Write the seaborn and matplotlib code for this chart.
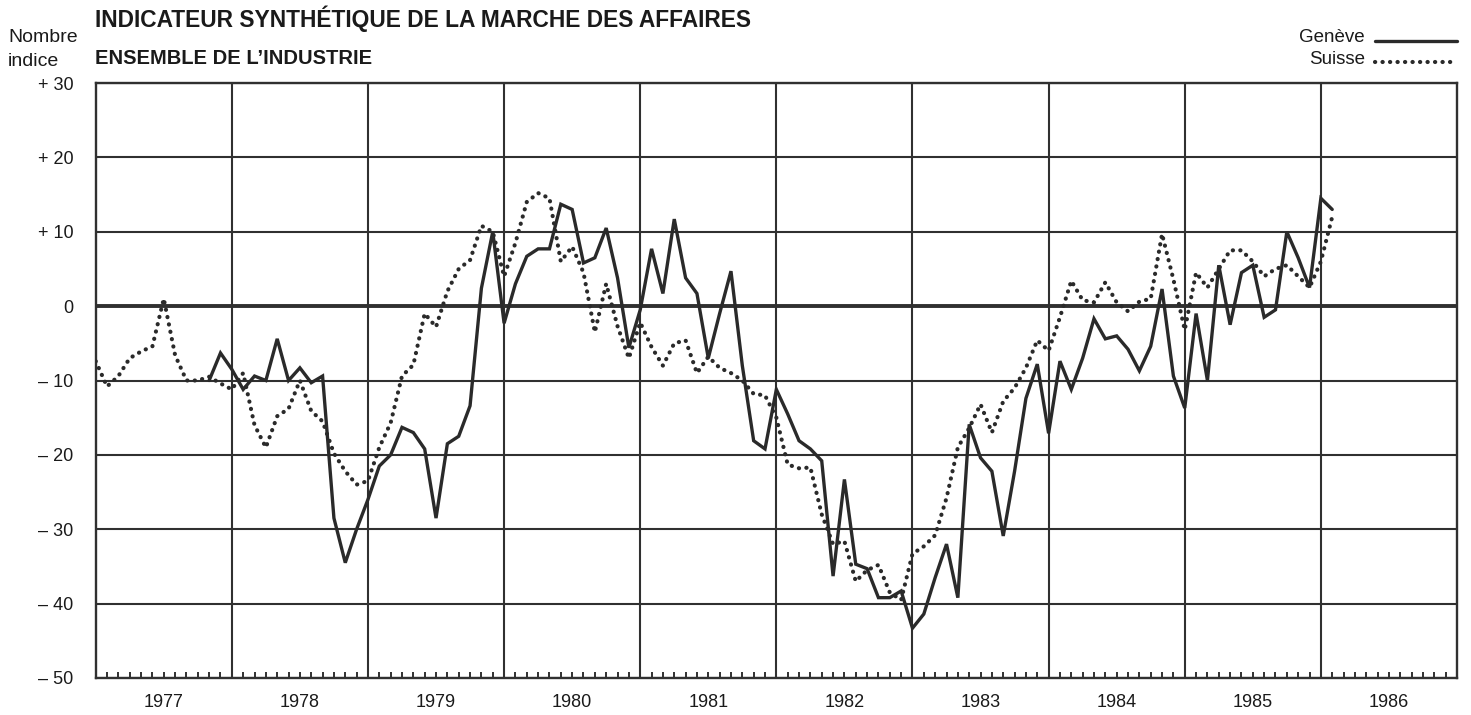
import numpy as np
import pandas as pd
import matplotlib
matplotlib.use("Agg")
import matplotlib.pyplot as plt
import seaborn as sns
from matplotlib.lines import Line2D
from matplotlib.transforms import blended_transform_factory

# ---------------- data (monthly, index 0 = January 1977) ----------------
geneve_start = 10  # November 1977
geneve = [
    -10, -6.3, -8.5, -11.2, -9.4, -10, -4.4, -10, -8.3, -10.3,
    -9.4, -28.5, -34.5, -30, -26, -21.5, -20, -16.3, -17, -19.2,
    -28.5, -18.5, -17.5, -13.4, 2.4, 10, -2.3, 3, 6.7, 7.7,
    7.7, 13.7, 13, 5.8, 6.5, 10.5, 3.8, -5.6, -0.5, 7.7,
    1.7, 11.7, 3.8, 1.7, -7, -1, 4.7, -8, -18.1, -19.2,
    -11.2, -14.5, -18.1, -19.2, -20.8, -36.3, -23.3, -34.7, -35.3, -39.2,
    -39.2, -38.3, -43.3, -41.4, -36.5, -32, -39.2, -15.9, -20.4, -22.2,
    -30.9, -22.2, -12.4, -7.8, -17.1, -7.4, -11.2, -7, -1.7, -4.4,
    -4, -5.8, -8.7, -5.4, 2.3, -9.4, -13.7, -1, -10, 5.5,
    -2.5, 4.5, 5.5, -1.5, -0.5, 10, 6.5, 2.5, 14.5, 13,
]
suisse_start = 0  # January 1977
suisse = [
    -7.4, -10.8, -9.4, -7, -6.1, -5.4, 1, -6.6, -10, -10,
    -9.5, -10.4, -11.2, -9, -16, -19, -14.8, -13.8, -10, -14.1,
    -15.5, -19.8, -22.2, -24, -23.5, -19, -15.7, -9.4, -7.9, -1,
    -2.8, 2, 5, 6.2, 10.8, 10, 4, 8.5, 14, 15.2,
    14.5, 6, 8, 4.5, -3.5, 3, -2.7, -7, -2.2, -5.5,
    -8, -5, -4.6, -9, -6.8, -8.3, -9, -10, -11.8, -12,
    -15, -21.3, -21.8, -21.7, -28, -32, -31.6, -37, -35.5, -34.8,
    -38.5, -39.5, -33.3, -32.3, -30.8, -25.8, -19, -16.4, -13.2, -17,
    -12.8, -11, -8.3, -4.6, -6, -1.5, 3.4, 0.8, 0.5, 3.2,
    0.5, -0.7, 0.6, 1, 9.7, 3.6, -3.2, 4.5, 2.5, 5,
    7.5, 7.5, 6, 4, 5, 5.5, 4, 2.5, 6, 12,
]
series_names = ["Genève", "Suisse"]
years = list(range(1977, 1987))
y_ticks = [30, 20, 10, 0, -10, -20, -30, -40, -50]
y_labels = ["+ 30", "+ 20", "+ 10", "0", "\u2013 10", "\u2013 20", "\u2013 30", "\u2013 40", "\u2013 50"]
title = "INDICATEUR SYNTHÉTIQUE DE LA MARCHE DES AFFAIRES"
subtitle = "ENSEMBLE DE L\u2019INDUSTRIE"
unit_lines = ["Nombre", "indice"]

# ---------------- frame ----------------
def to_frame(values, start, name):
    t = 1977 + (start + np.arange(len(values))) / 12.0
    return pd.DataFrame({"t": t, "v": values, "serie": name})

df_g = to_frame(geneve, geneve_start, series_names[0])
df_s = to_frame(suisse, suisse_start, series_names[1])

sns.set_theme(style="white")
plt.rcParams["font.family"] = ["Liberation Sans", "DejaVu Sans"]

W, H, DPI = 1471, 715, 100
fig = plt.figure(figsize=(W / DPI, H / DPI), dpi=DPI)
ax = fig.add_axes([95.7 / W, 1 - 678 / H, (1457 - 95.7) / W, (678 - 83) / H])

ink = "#2a2a2a"
grid_c = "#303030"
txt_c = "#1a1a1a"
dot_style = (0, (0.05, 1.75))

# grid
for yv in y_ticks:
    ax.axhline(yv, color=grid_c, lw=1.5 if yv != 0 else 2.8, zorder=1)
for yr in years[1:]:
    ax.axvline(yr, color=grid_c, lw=1.5, zorder=1)

sns.lineplot(data=df_s, x="t", y="v", ax=ax, color=ink, lw=3.0,
             linestyle=dot_style, dash_capstyle="round", zorder=3, legend=False)
sns.lineplot(data=df_g, x="t", y="v", ax=ax, color=ink, lw=2.4,
             solid_joinstyle="miter", zorder=4, legend=False)

ax.set_xlim(years[0], years[-1] + 1)
ax.set_ylim(-50, 30)
ax.set_xlabel("")
ax.set_ylabel("")

# y ticks
ax.set_yticks(y_ticks)
ax.set_yticklabels(y_labels)
ax.tick_params(axis="y", length=0, pad=16, labelsize=13, colors=txt_c)

# x: year boundary ticks (out), monthly minor ticks (in), labels centred in years
ax.set_xticks(years[1:])
ax.set_xticklabels([])
ax.tick_params(axis="x", which="major", direction="out", length=4, width=1.2, color=grid_c)
months = np.arange(years[0], years[-1] + 1, 1 / 12.0)
ax.set_xticks(months, minor=True)
ax.tick_params(axis="x", which="minor", direction="in", length=4, width=1.4,
               color=grid_c, bottom=True, top=False)
trans = blended_transform_factory(ax.transData, ax.transAxes)
for yr in years:
    ax.text(yr + 0.5, -0.027, str(yr), transform=trans, ha="center", va="top",
            fontsize=13, color=txt_c)

for sp in ax.spines.values():
    sp.set_visible(True)
    sp.set_color(grid_c)
    sp.set_linewidth(1.7)

# texts
fig.text(8 / W, 1 - 42 / H, unit_lines[0], ha="left", va="baseline", fontsize=14, color=txt_c)
fig.text(8 / W, 1 - 66 / H, unit_lines[1], ha="left", va="baseline", fontsize=14, color=txt_c)
fig.text(95 / W, 1 - 27 / H, title, ha="left", va="baseline", fontsize=16.4,
         fontweight="bold", color=txt_c)
fig.text(95 / W, 1 - 64 / H, subtitle, ha="left", va="baseline", fontsize=14.5,
         fontweight="bold", color=txt_c)

# legend (label left of key, key on the text baseline)
leg_rows = [(42, 41, dict(lw=2.4, linestyle="-")),
            (64, 62, dict(lw=3.0, linestyle=dot_style, dash_capstyle="round"))]
for name, (base_y, key_y, style) in zip(series_names, leg_rows):
    fig.text(1365 / W, 1 - base_y / H, name, ha="right", va="baseline", fontsize=13.5, color=txt_c)
    fig.add_artist(Line2D([1375 / W, 1457 / W], [1 - key_y / H, 1 - key_y / H],
                          transform=fig.transFigure, color=ink, **style))

fig.savefig("out.png", dpi=DPI, facecolor="white")
